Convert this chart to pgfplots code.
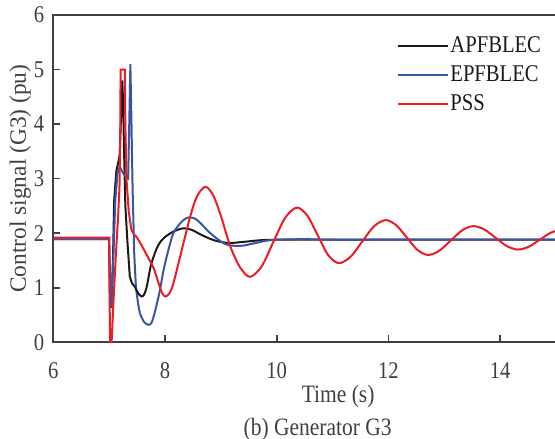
\documentclass[border=0pt]{standalone}
\usepackage{fontspec}
\setmainfont{Liberation Serif}[FakeStretch=0.86]
\newfontfamily\plainserif{Liberation Serif}
\usepackage{pgfplots}
\pgfplotsset{compat=1.18}
\definecolor{axgray}{HTML}{404040}
\definecolor{cblack}{HTML}{1A1A1A}
\definecolor{cblue}{HTML}{3A55A5}
\definecolor{cred}{HTML}{EC1C24}
\begin{document}
\begin{tikzpicture}
\begin{axis}[
  scale only axis, width=279.25pt, height=163.65pt,
  xmin=6, xmax=16, ymin=0, ymax=6,
  xtick={6,8,10,12,14}, ytick={0,1,2,3,4,5,6},
  axis line style={line width=1pt, color=axgray},
  tick style={line width=0.8pt, color=axgray},
  major tick length=3.5pt,
  tick align=inside, tick pos=left,
  ticklabel style={font=\fontsize{12}{14}\selectfont, text=axgray},
  /pgf/number format/assume math mode=true,
  xticklabel style={yshift=-6.5pt},
  yticklabel style={xshift=-1pt},
  xlabel={Time (s)},
  xlabel style={font=\fontsize{12.5}{14}\selectfont, text=axgray, at={(axis description cs:0.5,0)}, anchor=base, yshift=-30.15pt, xshift=2.8pt},
  ylabel={Control signal (G3) (pu)},
  ylabel style={font=\plainserif\fontsize{11.7}{14}\selectfont, text=axgray, at={([xshift=-11pt]axis description cs:0,0.5)}, anchor=south, inner sep=0pt},
  legend style={draw=none, fill=none, inner sep=0pt, at={(rel axis cs:0.6143,0.9447)}, anchor=north west,
    font=\fontsize{12}{14}\selectfont, text=cblack, row sep=1.9pt,
    nodes={inner sep=0.8pt, text height=8.5pt, text depth=2.5pt}},
  legend cell align=left,
  legend image code/.code={\draw[#1] (0pt,0pt) -- (25pt,0pt);},
  every axis plot/.append style={line width=1pt},
]
% APFBLEC
\addplot[cblack] coordinates {
(6.0,1.89)(7.0,1.89)(7.01,1.2)(7.04,0.63)(7.07,1.6)(7.09,2.6)(7.13,3.15)(7.166,3.31)(7.19,3.45)(7.215,4.2)(7.235,4.8)(7.25,4.4)(7.265,3.6)(7.29,2.5)(7.33,1.8)(7.37,1.2)(7.41,1.08)(7.46,1.02)
};
\addlegendentry{APFBLEC}
% EPFBLEC
\addplot[cblue] coordinates {
(6.0,1.89)(7.0,1.89)(7.01,1.3)(7.045,0.65)(7.08,1.7)(7.11,2.6)(7.15,3.1)(7.19,3.22)(7.24,3.12)(7.30,3.03)(7.34,3.0)(7.36,4.0)(7.38,5.1)(7.40,4.0)(7.42,2.8)(7.45,1.6)(7.48,1.0)(7.52,0.7)(7.55,0.53)
};
\addlegendentry{EPFBLEC}
% PSS
\addplot[cred] coordinates {
(6.0,1.92)(7.0,1.92)(7.005,1.0)(7.02,-0.2)(7.035,-0.2)(7.08,0.8)(7.12,1.6)(7.16,2.3)(7.185,2.85)(7.2,4.0)(7.205,5.0)(7.28,5.0)(7.29,4.0)(7.31,3.0)(7.35,2.4)(7.40,2.06)(7.45,1.97)
};
\addlegendentry{PSS}
% smooth tails
\addplot[cblack, smooth, tension=0.5, forget plot] coordinates {
(7.46,1.02)(7.52,0.9)(7.58,0.84)(7.63,0.88)(7.68,1.05)(7.74,1.38)(7.80,1.58)(7.86,1.74)(7.93,1.86)(8.0,1.93)(8.15,2.03)(8.33,2.09)(8.48,2.06)(8.63,1.98)(8.8,1.90)(8.95,1.85)(9.15,1.82)(9.4,1.84)(9.7,1.87)(10.0,1.88)(11,1.88)(12,1.88)(13,1.88)(14,1.88)(15,1.88)(16,1.88)
};
\addplot[cblue, smooth, tension=0.5, forget plot] coordinates {
(7.55,0.53)(7.62,0.38)(7.70,0.32)(7.76,0.36)(7.83,0.6)(7.91,0.96)(7.97,1.3)(8.03,1.57)(8.09,1.8)(8.15,2.0)(8.27,2.18)(8.37,2.27)(8.45,2.29)(8.55,2.26)(8.65,2.17)(8.78,2.03)(8.93,1.90)(9.08,1.80)(9.22,1.77)(9.38,1.77)(9.58,1.81)(9.8,1.86)(10.0,1.88)(10.5,1.89)(11,1.88)(12,1.88)(13,1.88)(14,1.88)(15,1.88)(16,1.88)
};
\addplot[cred, smooth, tension=0.5, forget plot] coordinates {
(7.45,1.97)(7.50,1.92)(7.60,1.74)(7.70,1.55)(7.80,1.35)(7.88,1.10)(7.95,0.90)(8.01,0.84)(8.08,0.90)(8.15,1.08)(8.30,1.69)(8.45,2.30)(8.57,2.67)(8.72,2.85)(8.86,2.70)(9.0,2.32)(9.165,1.77)(9.34,1.38)(9.52,1.20)(9.73,1.39)(9.94,1.84)(10.15,2.28)(10.36,2.47)(10.55,2.32)(10.735,1.96)(10.92,1.60)(11.11,1.45)(11.32,1.565)(11.53,1.845)(11.74,2.125)(11.95,2.24)(12.14,2.146)(12.33,1.92)(12.52,1.694)(12.71,1.60)(12.91,1.678)(13.115,1.865)(13.32,2.052)(13.52,2.13)(13.72,2.067)(13.92,1.915)(14.12,1.763)(14.32,1.70)(14.515,1.753)(14.71,1.88)(14.905,2.007)(15.1,2.06)(15.3,2.0)
};
\end{axis}
\node[anchor=base, font=\fontsize{12.5}{14}\selectfont, text=axgray] at ([xshift=132.2pt, yshift=-46.85pt]current axis.south west) {(b) Generator G3};
\pgfresetboundingbox
\path[use as bounding box] ([xshift=-26.65pt, yshift=-48.35pt]current axis.south west) rectangle ([xshift=250.85pt, yshift=7.5pt]current axis.north west);
\end{tikzpicture}
\end{document}
